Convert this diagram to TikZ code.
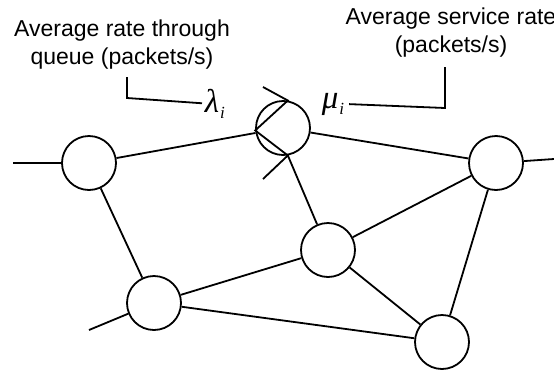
\documentclass[tikz,border=0pt]{standalone}
\usepackage{fontspec}
\setmainfont{Liberation Sans}
\newfontfamily\greekserif{Liberation Serif}
\usetikzlibrary{positioning}

\newcommand{\ratesym}[1]{{\greekserif\itshape #1\kern1pt\raisebox{-0.4ex}{\fontsize{17}{17}\selectfont i}}}

\begin{document}
\begin{tikzpicture}[x=1pt, y=-1pt, line width=1.8pt,
		router/.style={draw, circle, minimum size=54pt, inner sep=0pt},
		caption/.style={align=center, inner sep=0pt, font=\fontsize{23}{28}\selectfont},
		rate/.style={inner sep=0pt, font=\fontsize{33}{36}\selectfont}
		]
		\useasboundingbox (0,0) rectangle (554,370);
		% routers
		\node[router] (A) at (89,163) {};
		\node[router] (Q) at (283,128) {};
		\node[router] (C) at (496,163) {};
		\node[router] (D) at (328,250) {};
		\node[router] (E) at (154,303) {};
		\node[router] (F) at (442,342) {};
		% queue symbol
		\coordinate (Qin) at (263,87);
		\coordinate (Qout) at (263,179);
		\coordinate (Qs) at (Q.-80);
		\draw (Qin) -- (Q.80) -- (Q.185) -- (Qs) -- (Qout);
		% links
		\draw (A) -- (Q);
		\draw (Q) -- (C);
		\draw (Qs) -- (D);
		\draw (A) -- (E);
		\draw (E) -- (D);
		\draw (D) -- (C);
		\draw (D) -- (F);
		\draw (C) -- (F);
		\draw (E) -- (F);
		% stubs
		\coordinate (Ain) at (13,163);
		\coordinate (Ein) at (89,330);
		\coordinate (Cout) at (554,159);
		\draw (Ain) -- (A);
		\draw (Ein) -- (E);
		\draw (C) -- (Cout);
		% labels
		\node[caption, anchor=north] (arrival) at (122,18.5) {Average rate through\\queue (packets/s)};
		\node[caption, anchor=north] (service) at (451,7) {Average service rate\\(packets/s)};
		\node[rate, anchor=base west] (lam) at (204,112) {\ratesym{λ}};
		\node[rate, anchor=base west] (mu) at (321,108) {\ratesym{μ}};
		\coordinate (lamknee) at (127,98);
		\coordinate (lamtop) at (127,77);
		\coordinate (muknee) at (445,108);
		\coordinate (mutop) at (445,67);
		\draw[shorten <=2pt] (lam.west) -- (lamknee) -- (lamtop);
		\draw[shorten <=4pt] (mu.east) -- (muknee) -- (mutop);
\end{tikzpicture}
\end{document}
